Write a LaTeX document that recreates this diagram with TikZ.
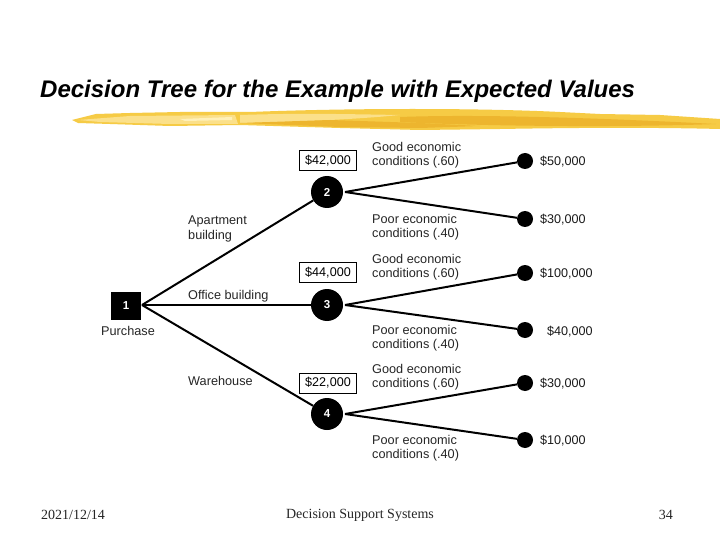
\documentclass[tikz,border=0pt]{standalone}
\usepackage{fontspec}
\setmainfont{Liberation Sans}
\newfontfamily\footfont{Liberation Serif}
\usetikzlibrary{calc}
\definecolor{brushA}{HTML}{F6CB45}
\definecolor{brushB}{HTML}{FBE08A}
\definecolor{brushC}{HTML}{EDB52E}
\definecolor{brushD}{HTML}{FFF0B8}
\tikzset{
 x=1pt,y=-1pt,
 chance/.style={circle,fill=black,minimum size=32pt,inner sep=0pt,text=white,font=\fontsize{11.5}{11.5}\selectfont\bfseries},
 decide/.style={rectangle,fill=black,minimum width=30pt,minimum height=28pt,inner sep=0pt,text=white,font=\fontsize{11.5}{11.5}\selectfont\bfseries},
 leaf/.style={circle,fill=black,minimum size=16pt,inner sep=0pt},
 evbox/.style={rectangle,draw=black,line width=1pt,fill=white,minimum width=57pt,minimum height=20pt,inner sep=0pt,font=\fontsize{12.6}{13}\selectfont},
 lab/.style={anchor=west,align=left,inner sep=0pt,text=black!85,font=\fontsize{12.7}{14}\selectfont},
 pay/.style={anchor=west,inner sep=0pt,text=black!90,font=\fontsize{12.6}{13}\selectfont},
 branch/.style={line width=2pt,black},
 foot/.style={inner sep=0pt,font=\footfont\fontsize{14}{14}\selectfont,text=black!85}
}
\begin{document}
\begin{tikzpicture}
\useasboundingbox (0,0) rectangle (720,540);
\fill[white] (0,0) rectangle (720,540);
% title
\node[inner sep=0pt,anchor=west,font=\fontsize{24}{24}\selectfont\bfseries\itshape] (title) at (40,91) {Decision Tree for the Example with Expected Values};
% brush stroke
\fill[brushA] (72,120) -- (96,114) -- (130,113) -- (180,112) -- (250,112) .. controls (350,108) and (480,108) .. (560,112) -- (600,114) -- (660,115) -- (720,119) -- (720,129) .. controls (640,127) and (560,128) .. (500,129) -- (420,130) -- (340,128) -- (240,125) -- (170,126) -- (110,124) -- (78,123) -- cycle;
\fill[brushB] (78,120) -- (130,116) -- (235,115) -- (238,124) -- (170,124) -- (100,122) -- cycle;
\fill[brushB] (240,115) .. controls (300,113) and (340,114) .. (400,115) .. controls (360,119) and (300,122) .. (240,123) -- cycle;
\fill[brushD] (180,119) -- (232,117) -- (232,120) -- (185,121) -- cycle;
\fill[brushC] (400,117) .. controls (480,114) and (600,118) .. (716,124) .. controls (640,127) and (500,127) .. (400,122) -- cycle;
\fill[brushC] (240,123) -- (330,120) -- (420,123) -- (480,126) -- (420,128) -- (340,127) -- cycle;
% nodes
\node[decide] (n1) at (126,306) {1};
\node[chance] (n2) at (327,192) {2};
\node[chance] (n3) at (327,305) {3};
\node[chance] (n4) at (327,414) {4};
\node[leaf] (l1) at (525,161) {};
\node[leaf] (l2) at (525,219) {};
\node[leaf] (l3) at (525,273) {};
\node[leaf] (l4) at (525,330) {};
\node[leaf] (l5) at (525,383) {};
\node[leaf] (l6) at (525,440) {};
% connectors
\coordinate (s1) at (142,305);
\coordinate (s2) at (345,192);
\coordinate (s3) at (345,305);
\coordinate (s4) at (345,414);
\draw[branch] (s1) -- (n2);
\draw[branch] (s1) -- (n3);
\draw[branch] (s1) -- (n4);
\draw[branch] (s2) -- (l1);
\draw[branch] (s2) -- (l2);
\draw[branch] (s3) -- (l3);
\draw[branch] (s3) -- (l4);
\draw[branch] (s4) -- (l5);
\draw[branch] (s4) -- (l6);
% value boxes
\node[evbox] (b2) at (328,161) {\raisebox{-1pt}{\$42,000}};
\node[evbox] (b3) at (328,272.5) {\raisebox{-1pt}{\$44,000}};
\node[evbox] (b4) at (328,383) {\raisebox{-1pt}{\$22,000}};
% labels
\node[lab,anchor=north west] (t1) at (101,326) {Purchase};
\node[lab,anchor=north west,font=\fontsize{12.7}{15}\selectfont] (t2) at (188,215.5) {Apartment\\building};
\node[lab,anchor=west] (t3) at (188,296) {Office building};
\node[lab,anchor=west] (t4) at (188,381) {Warehouse};
\node[lab] (g1) at (372,155.5) {Good economic\\conditions (.60)};
\node[lab] (p1) at (372,227) {Poor economic\\conditions (.40)};
\node[lab] (g2) at (372,267) {Good economic\\conditions (.60)};
\node[lab] (p2) at (372,338) {Poor economic\\conditions (.40)};
\node[lab] (g3) at (372,377) {Good economic\\conditions (.60)};
\node[lab] (p3) at (372,448) {Poor economic\\conditions (.40)};
\node[pay] (v1) at (540,162) {\$50,000};
\node[pay] (v2) at (540,220) {\$30,000};
\node[pay] (v3) at (540,274) {\$100,000};
\node[pay] (v4) at (547,332) {\$40,000};
\node[pay] (v5) at (540,384) {\$30,000};
\node[pay] (v6) at (540,441) {\$10,000};
% footer
\node[foot,anchor=west] (f1) at (41,515) {2021/12/14};
\node[foot] (f2) at (360,515) {Decision Support Systems};
\node[foot,anchor=east] (f3) at (673,515) {34};
\end{tikzpicture}
\end{document}
